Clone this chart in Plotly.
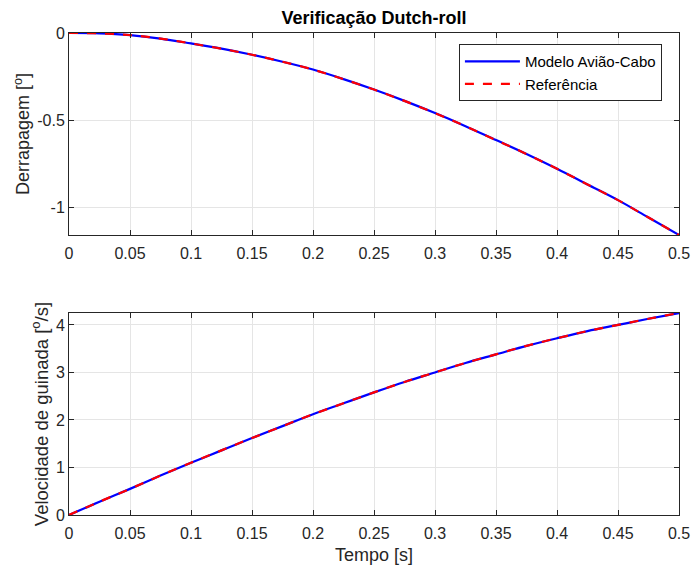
import plotly.graph_objects as go
from plotly.subplots import make_subplots

# Time samples [s]
tempo = [0.0, 0.025, 0.05, 0.075, 0.1, 0.125, 0.15, 0.175, 0.2, 0.225, 0.25,
         0.275, 0.3, 0.325, 0.35, 0.375, 0.4, 0.425, 0.45, 0.475, 0.5]

# Sideslip angle [deg]
derrapagem_modelo = [0.0, -0.002, -0.012, -0.032, -0.06, -0.09, -0.125, -0.165, -0.21,
                     -0.265, -0.325, -0.39, -0.46, -0.535, -0.615, -0.695, -0.78,
                     -0.87, -0.96, -1.06, -1.16]
derrapagem_ref = list(derrapagem_modelo)

# Yaw rate [deg/s]
guinada_modelo = [0.0, 0.28, 0.55, 0.83, 1.1, 1.36, 1.62, 1.87, 2.12, 2.35, 2.58,
                  2.80, 3.0, 3.2, 3.38, 3.56, 3.72, 3.87, 4.0, 4.13, 4.25]
guinada_ref = list(guinada_modelo)

xticks = [0, 0.05, 0.1, 0.15, 0.2, 0.25, 0.3, 0.35, 0.4, 0.45, 0.5]
xtick_text = ["0", "0.05", "0.1", "0.15", "0.2", "0.25", "0.3", "0.35", "0.4", "0.45", "0.5"]

FONT = "Liberation Sans, Arial, Helvetica, sans-serif"
TXT = "#262626"
BLUE = "#0000ff"
RED = "#ff0000"

fig = make_subplots(rows=2, cols=1, vertical_spacing=0.162)

fig.add_trace(go.Scatter(x=tempo, y=derrapagem_modelo, mode="lines",
                         line=dict(color=BLUE, width=2.2, shape="spline"),
                         name="Modelo Avião-Cabo"), row=1, col=1)
fig.add_trace(go.Scatter(x=tempo, y=derrapagem_ref, mode="lines",
                         line=dict(color=RED, width=2.2, dash="dash", shape="spline"),
                         name="Referência"), row=1, col=1)
fig.add_trace(go.Scatter(x=tempo, y=guinada_modelo, mode="lines",
                         line=dict(color=BLUE, width=2.2, shape="spline"),
                         showlegend=False), row=2, col=1)
fig.add_trace(go.Scatter(x=tempo, y=guinada_ref, mode="lines",
                         line=dict(color=RED, width=2.2, dash="dash", shape="spline"),
                         showlegend=False), row=2, col=1)

axis_common = dict(
    showline=True, linecolor=TXT, linewidth=1, mirror="ticks",
    ticks="inside", ticklen=5, tickcolor=TXT, tickwidth=1,
    showgrid=True, gridcolor="#e5e5e5", gridwidth=1,
    zeroline=False, automargin=False,
    tickfont=dict(family=FONT, size=16, color=TXT),
)

fig.update_xaxes(**axis_common, range=[0, 0.5], tickvals=xticks, ticktext=xtick_text,
                 ticklabelstandoff=4)
fig.update_xaxes(title=dict(text="Tempo [s]", font=dict(family=FONT, size=18, color=TXT),
                            standoff=7), row=2, col=1)

fig.update_yaxes(**axis_common, ticklabelstandoff=0)
fig.update_yaxes(range=[-1.16, 0], tickvals=[-1, -0.5, 0], ticktext=["-1", "-0.5", "0"],
                 title=dict(text="Derrapagem [<sup>o</sup>]",
                            font=dict(family=FONT, size=18, color=TXT), standoff=2),
                 row=1, col=1)
fig.update_yaxes(range=[0, 4.25], tickvals=[0, 1, 2, 3, 4],
                 title=dict(text="Velocidade de guinada [<sup>o</sup>/s]",
                            font=dict(family=FONT, size=18.5, color=TXT), standoff=2),
                 row=2, col=1)

fig.update_layout(
    width=692, height=569,
    margin=dict(l=69, r=13, t=33, b=54, autoexpand=False),
    paper_bgcolor="white", plot_bgcolor="white",
    font=dict(family=FONT, color=TXT),
    title=dict(text="<b>Verificação Dutch-roll</b>", x=(69 + 305) / 692, xanchor="center",
               y=1 - 18 / 569, yanchor="middle",
               font=dict(family=FONT, size=18, color="black")),
    legend=dict(x=0.972, y=0.977, xanchor="right", yanchor="top",
                bgcolor="white", bordercolor="#262626", borderwidth=1,
                font=dict(family=FONT, size=15, color="black"),
                itemwidth=55, tracegroupgap=0),
    showlegend=True,
)

fig.write_html("out.html")
